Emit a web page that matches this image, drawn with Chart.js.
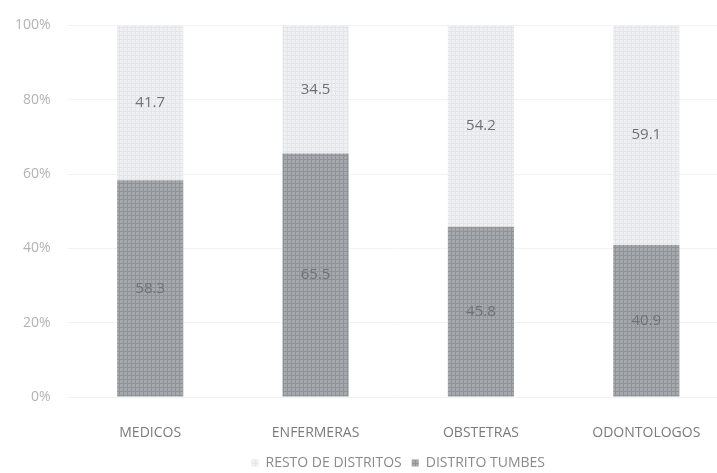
<!DOCTYPE html>
<html>
<head>
<meta charset="utf-8">
<script src="https://cdn.jsdelivr.net/npm/chart.js@4/dist/chart.umd.min.js"></script>
<style>
  html, body { margin: 0; padding: 0; background: #ffffff; overflow: hidden; }
  #wrap { width: 717px; height: 473px; overflow: hidden; }
</style>
</head>
<body>
<div id="wrap"><canvas id="c" width="796" height="473"></canvas></div>
<script>
// Personal de salud por distrito (%)
const categories = ['MEDICOS', 'ENFERMERAS', 'OBSTETRAS', 'ODONTOLOGOS'];
const distritoTumbes = [58.3, 65.5, 45.8, 40.9];
const restoDistritos = [41.7, 34.5, 54.2, 59.1];
const yTicks = [0, 20, 40, 60, 80, 100];

// Small tiled texture for the bar fills
function texture(base, line) {
  const t = document.createElement('canvas');
  t.width = 4; t.height = 4;
  const g = t.getContext('2d');
  g.fillStyle = base; g.fillRect(0, 0, 4, 4);
  g.fillStyle = line;
  g.fillRect(0, 3, 4, 1);
  g.fillRect(3, 0, 1, 4);
  return g.createPattern(t, 'repeat');
}
const ctx = document.getElementById('c').getContext('2d');
const darkFill = texture('#a5a8ad', '#8f9297');
const lightFill = texture('#eef0f2', '#e3e5e8');

// Value labels centred in each stacked segment
const segmentLabels = {
  id: 'segmentLabels',
  afterDatasetsDraw(chart) {
    const c = chart.ctx;
    c.save();
    c.textAlign = 'center';
    c.textBaseline = 'middle';
    c.font = '15px "Open Sans", sans-serif';
    chart.data.datasets.forEach((ds, di) => {
      const meta = chart.getDatasetMeta(di);
      meta.data.forEach((bar, i) => {
        const p = bar.getProps(['x', 'y', 'base'], true);
        c.fillStyle = di === 0 ? '#6f7378' : '#707070';
        c.fillText(ds.data[i].toFixed(1), p.x, (p.y + p.base) / 2);
      });
    });
    c.restore();
  }
};

new Chart(ctx, {
  type: 'bar',
  data: {
    labels: categories,
    datasets: [
      { label: 'DISTRITO TUMBES', data: distritoTumbes, backgroundColor: darkFill, borderWidth: 0 },
      { label: 'RESTO DE DISTRITOS', data: restoDistritos, backgroundColor: lightFill, borderWidth: 0 }
    ]
  },
  options: {
    responsive: false,
    animation: false,
    layout: { padding: { left: 0, right: 67, top: 11, bottom: -7 } },
    datasets: { bar: { categoryPercentage: 0.8, barPercentage: 0.5 } },
    scales: {
      x: {
        stacked: true,
        grid: { display: false },
        border: { display: false },
        afterFit(axis) { axis.height = 49; },
        ticks: { color: '#7a7a7a', font: { family: '"Open Sans", sans-serif', size: 14 }, padding: 20 }
      },
      y: {
        stacked: true,
        min: 0, max: 100,
        afterBuildTicks(axis) { axis.ticks = yTicks.map(v => ({ value: v })); },
        afterFit(axis) { axis.width = 67.5; },
        grid: { color: '#f2f2f2', drawTicks: false },
        border: { display: false },
        ticks: {
          color: '#b3b3b3',
          padding: 17,
          font: { family: '"Open Sans", sans-serif', size: 14 },
          callback: v => v + '%'
        }
      }
    },
    plugins: {
      legend: {
        position: 'bottom',
        fullSize: false,
        reverse: true,
        labels: {
          color: '#8a8a8a',
          font: { family: '"Open Sans", sans-serif', size: 14 },
          boxWidth: 7, boxHeight: 7, padding: 10
        }
      },
      tooltip: { enabled: false }
    }
  },
  plugins: [segmentLabels]
});
</script>
</body>
</html>
